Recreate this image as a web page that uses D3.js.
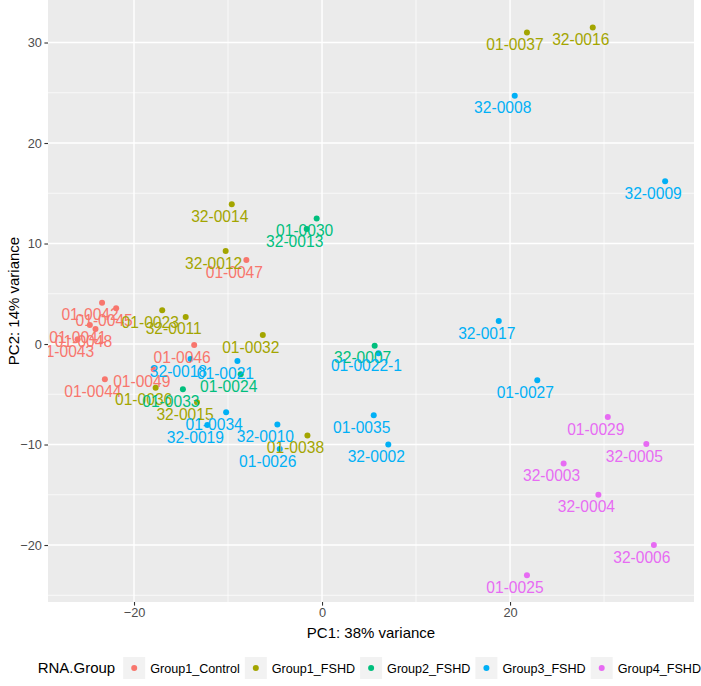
<!DOCTYPE html>
<html>
<head>
<meta charset="utf-8">
<script src="https://cdn.jsdelivr.net/npm/d3@7"></script>
<style>
  html, body { margin: 0; padding: 0; background: #ffffff; }
  svg { display: block; font-family: "Liberation Sans", Arial, Helvetica, sans-serif; }
</style>
</head>
<body>
<svg id="chart" width="701" height="686"></svg>
<script>
// ---------------- DATA ----------------
const groupNames = ["Group1_Control", "Group1_FSHD", "Group2_FSHD", "Group3_FSHD", "Group4_FSHD"];
const groupColors = ["#F8766D", "#A3A500", "#00BF7D", "#00B0F6", "#E76BF3"];

const sampleLabels = [
  // Group1_Control
  "01-0042", "01-0045", "01-0041", "01-0048", "01-0043", "01-0046", "01-0044", "01-0049", "01-0047",
  // Group1_FSHD
  "01-0037", "32-0016", "32-0014", "32-0012", "01-0023", "32-0011", "01-0032", "01-0036", "32-0015", "01-0038",
  // Group2_FSHD
  "01-0030", "32-0013", "32-0007", "01-0024", "01-0033",
  // Group3_FSHD
  "32-0008", "32-0009", "32-0017", "01-0027", "01-0022-1", "01-0021", "32-0018", "01-0034", "32-0019", "32-0010", "01-0026", "01-0035", "32-0002",
  // Group4_FSHD
  "01-0029", "32-0005", "32-0003", "32-0004", "32-0006", "01-0025"
];
const pc1 = [
  -23.4, -21.9, -24.7, -24.1, -26.0, -13.6, -23.1, -17.9, -8.05,
  21.8, 28.8, -9.6, -10.25, -17.0, -14.5, -6.3, -17.7, -13.3, -1.55,
  -0.57, -1.63, 5.6, -8.65, -14.8,
  20.5, 36.5, 18.8, 22.9, 6.0, -9.0, -14.0, -10.2, -12.2, -4.75, -4.5, 5.5, 7.05,
  30.4, 34.5, 25.7, 29.4, 35.3, 21.8
];
const pc2 = [
  4.1, 3.55, 1.9, 1.5, 0.47, -0.1, -3.5, -2.5, 8.36,
  31.0, 31.5, 13.9, 9.25, 3.35, 2.7, 0.9, -4.35, -5.8, -9.1,
  12.5, 11.45, -0.17, -3.0, -4.5,
  24.7, 16.2, 2.3, -3.6, -0.93, -1.7, -1.5, -6.8, -8.06, -8.0, -10.45, -7.1, -10.0,
  -7.26, -9.95, -11.9, -15.0, -20.0, -23.0
];
const groupIndex = [
  0, 0, 0, 0, 0, 0, 0, 0, 0,
  1, 1, 1, 1, 1, 1, 1, 1, 1, 1,
  2, 2, 2, 2, 2,
  3, 3, 3, 3, 3, 3, 3, 3, 3, 3, 3, 3, 3,
  4, 4, 4, 4, 4, 4
];
const xTicks = [-20, 0, 20];
const yTicks = [-20, -10, 0, 10, 20, 30];
const xMinor = [-10, 10, 30];
const yMinor = [-25, -15, -5, 5, 15, 25];
const xTitle = "PC1: 38% variance";
const yTitle = "PC2: 14% variance";
const legendTitle = "RNA.Group";

// ---------------- LAYOUT ----------------
const W = 701, H = 686;
const P = { left: 48, right: 694, top: 0, bottom: 602 };

const x = d3.scaleLinear().domain([-29.15, 39.57]).range([P.left, P.right]);
const y = d3.scaleLinear().domain([-25.67, 34.23]).range([P.bottom, P.top]);
const color = d3.scaleOrdinal().domain(groupNames).range(groupColors);

const svg = d3.select("#chart");

const defs = svg.append("defs");
defs.append("clipPath").attr("id", "panelClip")
  .append("rect")
  .attr("x", P.left).attr("y", P.top)
  .attr("width", P.right - P.left).attr("height", P.bottom - P.top);

// panel background
svg.append("rect")
  .attr("x", P.left).attr("y", P.top)
  .attr("width", P.right - P.left).attr("height", P.bottom - P.top)
  .attr("fill", "#EBEBEB");

const grid = svg.append("g").attr("clip-path", "url(#panelClip)");
grid.selectAll("line.xminor").data(xMinor).join("line")
  .attr("x1", d => x(d)).attr("x2", d => x(d))
  .attr("y1", P.top).attr("y2", P.bottom)
  .attr("stroke", "#ffffff").attr("stroke-width", 0.7);
grid.selectAll("line.yminor").data(yMinor).join("line")
  .attr("y1", d => y(d)).attr("y2", d => y(d))
  .attr("x1", P.left).attr("x2", P.right)
  .attr("stroke", "#ffffff").attr("stroke-width", 0.7);
grid.selectAll("line.xmajor").data(xTicks).join("line")
  .attr("x1", d => x(d)).attr("x2", d => x(d))
  .attr("y1", P.top).attr("y2", P.bottom)
  .attr("stroke", "#ffffff").attr("stroke-width", 1.4);
grid.selectAll("line.ymajor").data(yTicks).join("line")
  .attr("y1", d => y(d)).attr("y2", d => y(d))
  .attr("x1", P.left).attr("x2", P.right)
  .attr("stroke", "#ffffff").attr("stroke-width", 1.4);

// axes
const xAxis = svg.append("g")
  .attr("transform", `translate(0,${P.bottom})`)
  .call(d3.axisBottom(x).tickValues(xTicks).tickSize(3.6).tickPadding(2.5));
const yAxis = svg.append("g")
  .attr("transform", `translate(${P.left},0)`)
  .call(d3.axisLeft(y).tickValues(yTicks).tickSize(3.6).tickPadding(2.5));
[xAxis, yAxis].forEach(a => {
  a.select(".domain").remove();
  a.selectAll(".tick line").attr("stroke", "#333333").attr("stroke-width", 1.1);
  a.selectAll(".tick text")
    .attr("fill", "#4D4D4D")
    .style("font-size", "12.8px")
    .style("font-family", "'Liberation Sans', Arial, sans-serif");
});

// points
const data = sampleLabels.map((s, i) => ({ s, x: pc1[i], y: pc2[i], g: groupNames[groupIndex[i]] }));
const plot = svg.append("g").attr("clip-path", "url(#panelClip)");
plot.selectAll("circle").data(data).join("circle")
  .attr("cx", d => x(d.x)).attr("cy", d => y(d.y))
  .attr("r", 3)
  .attr("fill", d => color(d.g));

// labels
plot.selectAll("text.lab").data(data).join("text")
  .attr("class", "lab")
  .attr("x", d => x(d.x) - 12)
  .attr("y", d => y(d.y) + 12)
  .attr("dy", "0.36em")
  .attr("text-anchor", "middle")
  .attr("fill", d => color(d.g))
  .style("font-size", "15.6px")
  .text(d => d.s);

// axis titles
svg.append("text")
  .attr("x", (P.left + P.right) / 2).attr("y", 633)
  .attr("dy", "0.36em")
  .attr("text-anchor", "middle")
  .attr("fill", "#000000")
  .style("font-size", "15px")
  .text(xTitle);
svg.append("text")
  .attr("transform", `translate(14,${(P.top + P.bottom) / 2}) rotate(-90)`)
  .attr("dy", "0.36em")
  .attr("text-anchor", "middle")
  .attr("fill", "#000000")
  .style("font-size", "15px")
  .text(yTitle);

// legend
const legY = 668;
const keySize = 22;
const leg = svg.append("g");
const lt = leg.append("text")
  .attr("x", 0).attr("y", legY).attr("dy", "0.36em")
  .attr("fill", "#000000")
  .style("font-size", "15px")
  .text(legendTitle);
let cx = lt.node().getComputedTextLength() + 8;
groupNames.forEach((g, i) => {
  leg.append("rect")
    .attr("x", cx).attr("y", legY - keySize / 2)
    .attr("width", keySize).attr("height", keySize)
    .attr("fill", "#F2F2F2");
  leg.append("circle")
    .attr("cx", cx + keySize / 2).attr("cy", legY)
    .attr("r", 3).attr("fill", color(g));
  cx += keySize + 5;
  const t = leg.append("text")
    .attr("x", cx).attr("y", legY).attr("dy", "0.36em")
    .attr("fill", "#000000")
    .style("font-size", "12.6px")
    .text(g);
  cx += t.node().getComputedTextLength() + (i < groupNames.length - 1 ? 5 : 0);
});
const legW = cx;
const legX = Math.min((P.left + P.right) / 2 - legW / 2, W - legW);
leg.attr("transform", `translate(${legX},0)`);
</script>
</body>
</html>
